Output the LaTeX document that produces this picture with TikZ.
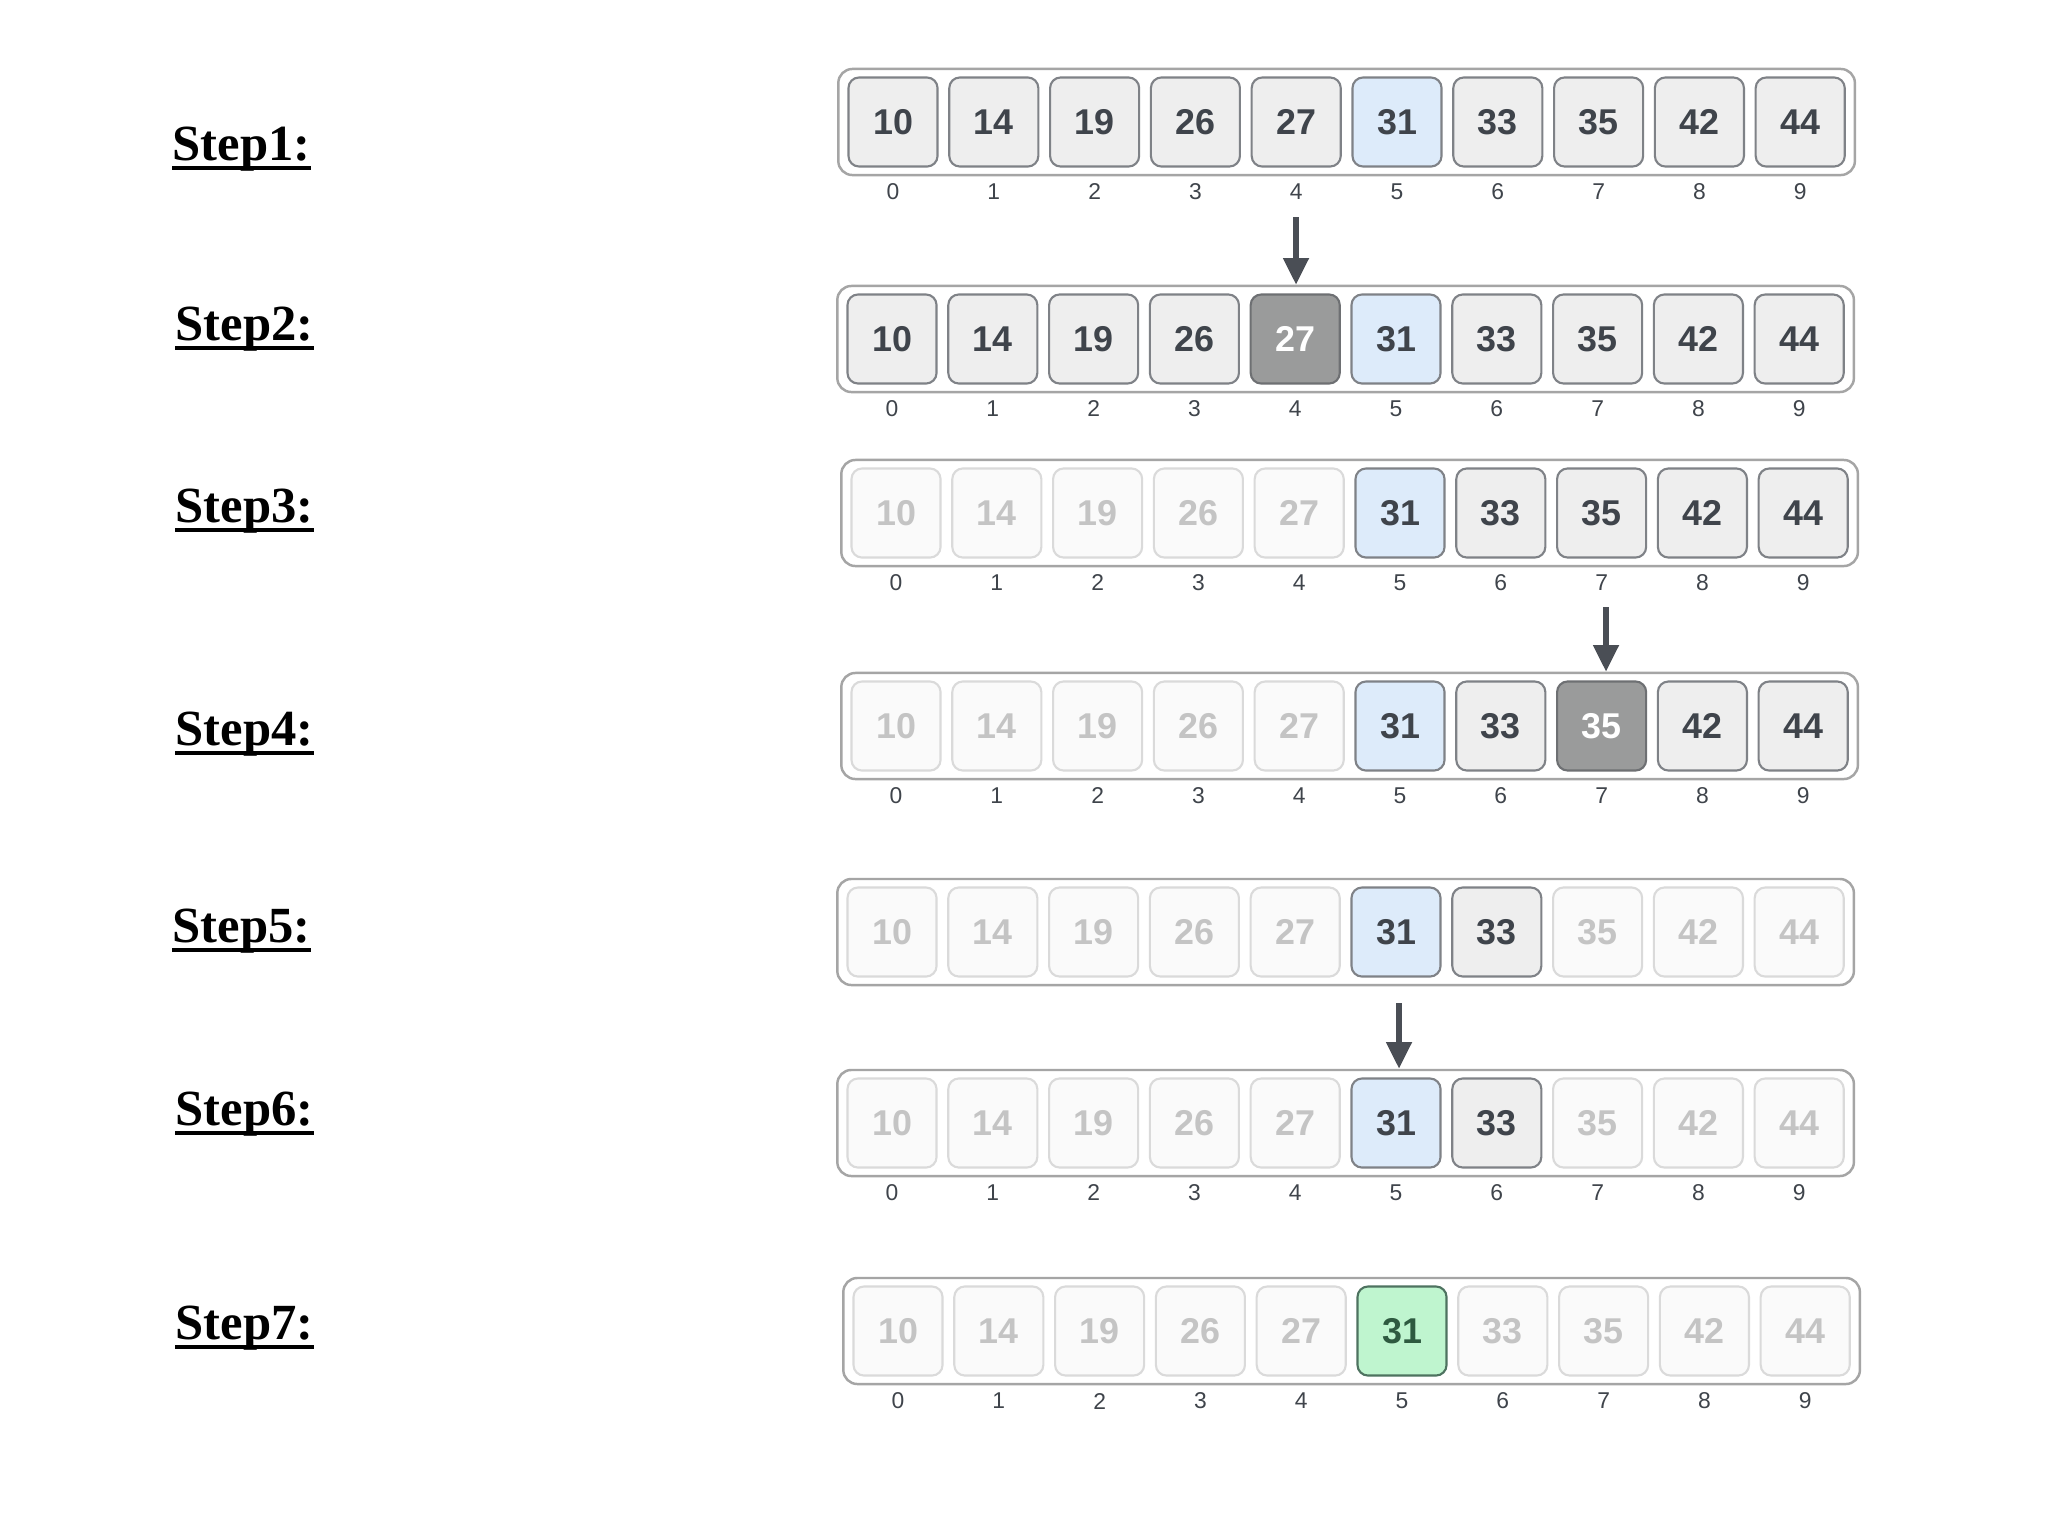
\documentclass[tikz,border=0pt]{standalone}
\usepackage{fontspec}
\setmainfont{Liberation Serif}
\newfontfamily\cellfont{Liberation Sans}
\usetikzlibrary{arrows.meta}

\definecolor{cellgray}{HTML}{EEEEEE}
\definecolor{cellline}{HTML}{7F8287}
\definecolor{digit}{HTML}{3F444B}
\definecolor{fadefill}{HTML}{FAFAFA}
\definecolor{fadeline}{HTML}{DADADA}
\definecolor{fadetext}{HTML}{C4C4C4}
\definecolor{bluefill}{HTML}{DDEBFA}
\definecolor{darkfill}{HTML}{9A9B9B}
\definecolor{darkline}{HTML}{6E7073}
\definecolor{greenfill}{HTML}{BFF5CF}
\definecolor{greenline}{HTML}{4E7360}
\definecolor{greentext}{HTML}{2E5A40}
\definecolor{boxline}{HTML}{A5A5A5}
\definecolor{arrowgray}{HTML}{4A4E55}

\begin{document}
\begin{tikzpicture}
  [x=0.01cm,y=-0.01cm,
   outer/.style={draw=boxline,line width=0.7pt,rounded corners=4pt,
     minimum width=10.16cm,minimum height=1.06cm,fill=white},
   cell/.style={draw,rounded corners=3pt,minimum size=0.89cm,inner sep=0,line width=0.6pt,
     font=\cellfont\bfseries\fontsize{10.2}{12}\selectfont},
   nrm/.style={fill=cellgray,draw=cellline,text=digit},
   fad/.style={fill=fadefill,draw=fadeline,text=fadetext},
   blu/.style={fill=bluefill,draw=cellline,text=digit},
   drk/.style={fill=darkfill,draw=darkline,text=white},
   grn/.style={fill=greenfill,draw=greenline,text=greentext},
   idx/.style={inner sep=0,text=digit,font=\cellfont\fontsize{6.5}{8}\selectfont},
   steplabel/.style={anchor=base west,inner sep=0,font=\bfseries\fontsize{14.4}{17}\selectfont},
   pointer/.style={-{Triangle[length=7.6pt,width=7pt]},line width=1.7pt,draw=arrowgray}]

  \fill[white] (0,0) rectangle (2048,1536);
  \useasboundingbox (0,0) rectangle (2048,1536);

  % step labels
  \foreach \r/\x/\y in {1/172/160,2/175/340,3/175/522,4/175/745,5/172/942,6/175/1125,7/175/1339}
  {
    \node[steplabel] (s\r) at (\x,\y) {Step\r:};
    \draw[line width=1pt] ([yshift=-2.2pt]s\r.base west) -- ([yshift=-2.2pt]s\r.base east);
  }

  % arrays
  \foreach \r/\y/\xo/\ix/\cells in {
    1/122/893/1/{10/nrm,14/nrm,19/nrm,26/nrm,27/nrm,31/blu,33/nrm,35/nrm,42/nrm,44/nrm},
    2/339/892/1/{10/nrm,14/nrm,19/nrm,26/nrm,27/drk,31/blu,33/nrm,35/nrm,42/nrm,44/nrm},
    3/513/896/1/{10/fad,14/fad,19/fad,26/fad,27/fad,31/blu,33/nrm,35/nrm,42/nrm,44/nrm},
    4/726/896/1/{10/fad,14/fad,19/fad,26/fad,27/fad,31/blu,33/nrm,35/drk,42/nrm,44/nrm},
    5/932/892/0/{10/fad,14/fad,19/fad,26/fad,27/fad,31/blu,33/nrm,35/fad,42/fad,44/fad},
    6/1123/892/1/{10/fad,14/fad,19/fad,26/fad,27/fad,31/blu,33/nrm,35/fad,42/fad,44/fad},
    7/1331/898/1/{10/fad,14/fad,19/fad,26/fad,27/fad,31/grn,33/fad,35/fad,42/fad,44/fad}}
  {
    \node[outer] (box\r) at ({\xo+453.6},\y) {};
    \foreach \v/\s [count=\i from 0] in \cells
    {
      \node[cell,\s] (c\r-\i) at ({\xo+\i*100.8},\y) {\v};
      \ifnum\ix=1
        \node[idx] (i\r-\i) at ({\xo+\i*100.8},{\y+70}) {\i};
      \fi
    }
  }

  % pointers
  \coordinate (a1) at (1296,217);
  \coordinate (a2) at (1606,607);
  \coordinate (a3) at (1399,1003);
  \draw[pointer] (a1) -- (a1 |- box2.north);
  \draw[pointer] (a2) -- (a2 |- box4.north);
  \draw[pointer] (a3) -- (a3 |- box6.north);

\end{tikzpicture}
\end{document}
